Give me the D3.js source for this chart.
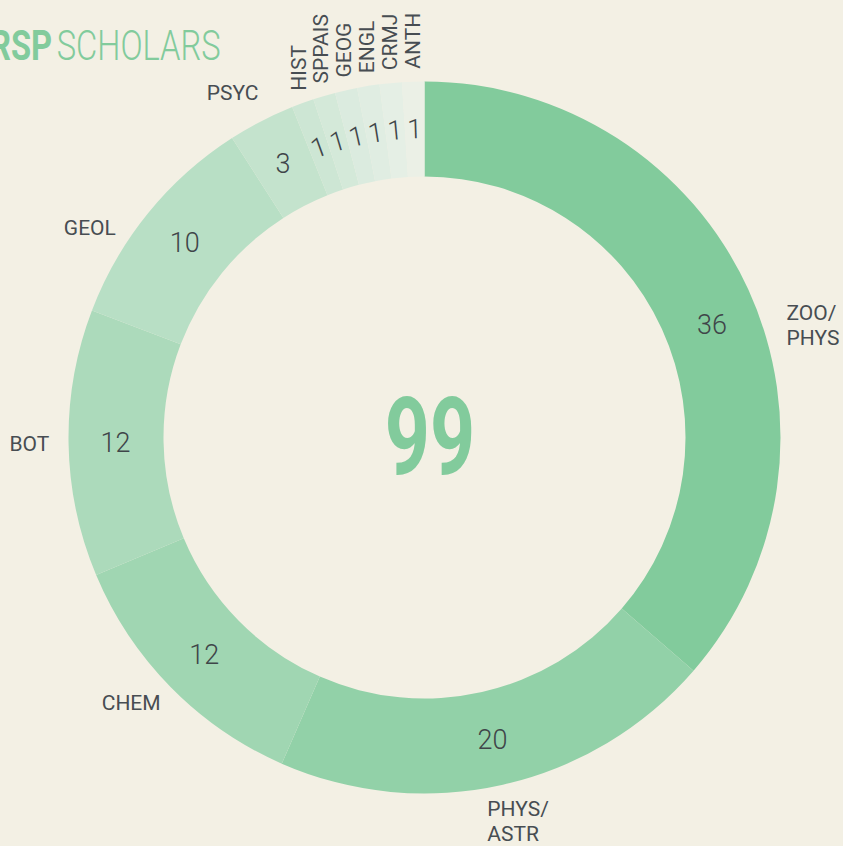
<!DOCTYPE html>
<html>
<head>
<meta charset="utf-8">
<script src="https://cdn.jsdelivr.net/npm/d3@7"></script>
<style>
	body { margin:0; background:#f3f0e4; overflow:hidden; }
	svg { display:block; }
</style>
</head>
<body>
<div class="donut"></div>
<script>
// data
var categories = ["ZOO/PHYS","PHYS/ASTR","CHEM","BOT","GEOL","PSYC","HIST","SPPAIS","GEOG","ENGL","CRMJ","ANTH"]
var counts = [36,20,12,12,10,3,1,1,1,1,1,1]
var colours = ["#82cb9c","#92d1a8","#a0d6b2","#acdabb","#b8dfc5","#c4e3cd","#cde6d4","#d4e9d9","#dbebdf","#e0ede2","#e5efe5","#ebf0e6"]
var total = d3.sum(counts)

var width = 843
var height = 846
var cx = 424.5, cy = 437.5
var rOuter = 356, rInner = 261

var svg = d3.select(".donut").append("svg").attr("width",width).attr("height",height)
svg.append("rect").attr("width",width).attr("height",height).attr("fill","#f3f0e4")

var labelFont = "'Roboto','Noto Sans',sans-serif"

//title (squeezed to look like the condensed original)
var title = svg.append("text").attr("transform","translate(-10,60) scale(0.76,1)")
	.attr("fill","#82cb9c").style("font-family",labelFont).style("font-size","43px")
title.append("tspan").style("font-weight","bold").text("RSP")
title.append("tspan").attr("dx",6).style("font-weight",300).text("SCHOLARS")

var data = categories.map(function(c,i){return {name:c,value:counts[i],colour:colours[i]}})
var pie = d3.pie().sort(null).value(function(d){return d.value})
var arc = d3.arc().innerRadius(rInner).outerRadius(rOuter)

var g = svg.append("g").attr("transform","translate("+cx+","+cy+")")
var slices = pie(data)

g.selectAll("path").data(slices).enter().append("path")
	.attr("d",arc)
	.attr("fill",function(d){return d.data.colour})

function mid(d){return (d.startAngle+d.endAngle)/2}
var deg = Math.PI/180

//hand nudges (degrees) so labels sit where the original put them
var labelNudge = {"ZOO/PHYS":8,"PHYS/ASTR":-1,"CHEM":2.5,"GEOL":-7,"PSYC":-1.8}
var valueNudge = {"ZOO/PHYS":3}

//values
var valR = 309
g.selectAll("text.value").data(slices).enter().append("text")
	.attr("class","value")
	.attr("transform",function(d){
		var a = mid(d) + (valueNudge[d.data.name]||0)*deg
		var x = valR*Math.sin(a), y = -valR*Math.cos(a)
		var rot = d.data.value == 1 ? a/deg : 0
		return "translate("+x+","+y+") rotate("+rot+")"
	})
	.attr("text-anchor","middle").attr("dy","0.36em")
	.attr("fill","#3f4549")
	.style("font-family",labelFont).style("font-weight",300).style("font-size","27px")
	.text(function(d){return d.data.value})

//big labels around the ring
var big = slices.filter(function(d){return d.data.value > 1})
var labR = 395
var labels = g.selectAll("text.label").data(big).enter().append("text")
	.attr("class","label")
	.attr("fill","#474d52")
	.style("font-family",labelFont).style("font-size","21px")
	.attr("text-anchor","start")
labels.each(function(d){
	var name = d.data.name
	var parts = name.indexOf("/") > -1 ? [name.split("/")[0]+"/", name.split("/")[1]] : [name]
	var el = d3.select(this)
	parts.forEach(function(p,i){
		el.append("tspan").attr("x",0)
			.attr("dy", i==0 ? (0.36 - (parts.length-1)*0.6)+"em" : "1.2em")
			.text(p)
	})
	var w = this.getBBox().width
	var a = mid(d) + (labelNudge[name]||0)*deg
	var x = labR*Math.sin(a) - w/2, y = -labR*Math.cos(a)
	if (Math.sin(a) > 0.8) x = rOuter + 6 // right side labels hug the ring
	el.attr("transform","translate("+x+","+y+")")
})

//small labels rotated at top
var small = slices.filter(function(d){return d.data.value == 1})
var smallR = 369
g.selectAll("text.small").data(small).enter().append("text")
	.attr("class","small")
	.attr("transform",function(d){
		var a = mid(d)
		return "translate("+(smallR*Math.sin(a))+","+(-smallR*Math.cos(a))+") rotate(-90)"
	})
	.attr("text-anchor","start").attr("dy","0.36em")
	.attr("fill","#474d52")
	.style("font-family",labelFont).style("font-size","21px")
	.text(function(d){return d.data.name})

//total
g.append("text").attr("text-anchor","middle").attr("transform","translate(5.5,36) scale(0.73,1)")
	.attr("fill","#82cb9c")
	.style("font-family",labelFont).style("font-weight","bold").style("font-size","108px")
	.text(total)
</script>
</body>
</html>
